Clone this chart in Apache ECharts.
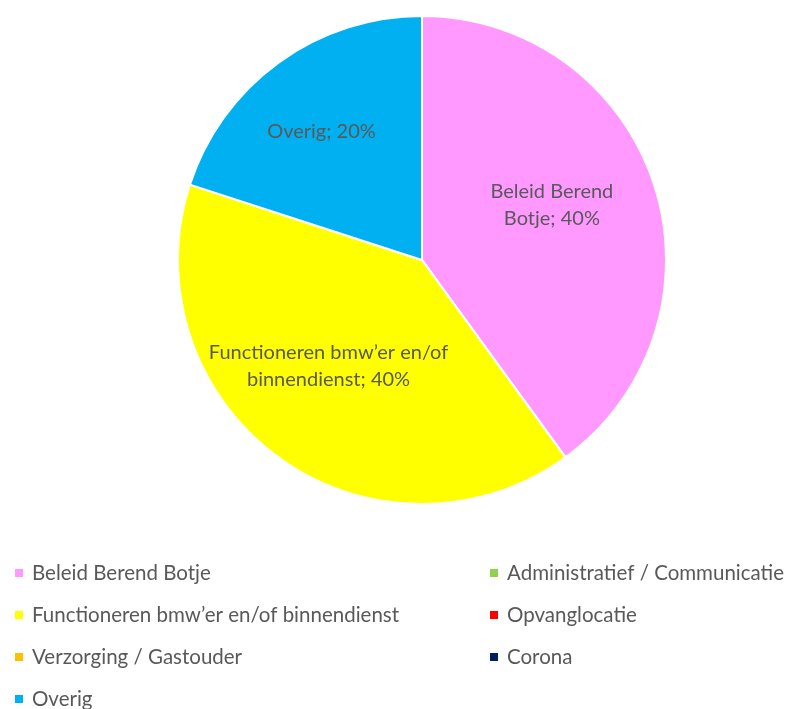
<!DOCTYPE html>
<html>
<head>
<meta charset="utf-8">
<script src="https://cdn.jsdelivr.net/npm/echarts@6/dist/echarts.min.js"></script>
<style>html,body{margin:0;padding:0;background:#fff}#c{width:790px;height:709px}</style>
</head>
<body>
<div id="c"></div>
<script>
var categories = ["Beleid Berend Botje", "Administratief / Communicatie", "Functioneren bmw\u2019er en/of binnendienst", "Opvanglocatie", "Verzorging / Gastouder", "Corona", "Overig"];
var values = [40, 0, 40, 0, 0, 0, 20];
var colors = ["#FF99FF", "#92D050", "#FFFF00", "#FF0000", "#FFC000", "#002060", "#00B0F0"];
var labelTexts = ["Beleid Berend\nBotje; 40%", "", "Functioneren bmw\u2019er en/of\nbinnendienst; 40%", "", "", "", "Overig; 20%"];
var labelOffsets = [[11, -16], [0, 0], [-20, 5], [0, 0], [0, 0], [0, 0], [-27, -27]];

var data = categories.map(function (c, i) {
  return {
    name: c,
    value: values[i],
    itemStyle: { color: colors[i] },
    label: { show: values[i] > 0, formatter: labelTexts[i], offset: labelOffsets[i] }
  };
});

var chart = echarts.init(document.getElementById('c'), null, { renderer: 'canvas' });
var font = 'Lato, Carlito, Calibri, sans-serif';
var legendText = { fontFamily: font, fontSize: 20.5, color: '#595959', lineHeight: 22, padding: [0, 0, 0, 3] };
chart.setOption({
  animation: false,
  legend: [{
    orient: 'vertical', left: 8, top: 557, height: 200,
    itemWidth: 10, itemHeight: 10, icon: 'rect', itemGap: 20,
    data: [categories[0], categories[2], categories[4], categories[6]],
    textStyle: legendText
  }, {
    orient: 'vertical', left: 483, top: 557, height: 200,
    itemWidth: 10, itemHeight: 10, icon: 'rect', itemGap: 20,
    data: [categories[1], categories[3], categories[5]],
    textStyle: legendText
  }],
  series: [{
    type: 'pie',
    center: [422, 260],
    radius: [0, 244],
    startAngle: 90,
    clockwise: true,
    minAngle: 0,
    avoidLabelOverlap: false,
    itemStyle: { borderColor: '#ffffff', borderWidth: 2 },
    label: {
      position: 'inside',
      fontFamily: font, fontSize: 20, color: '#595959', lineHeight: 27, align: 'center'
    },
    labelLine: { show: false },
    emphasis: { disabled: true },
    data: data
  }]
});
</script>
</body>
</html>
